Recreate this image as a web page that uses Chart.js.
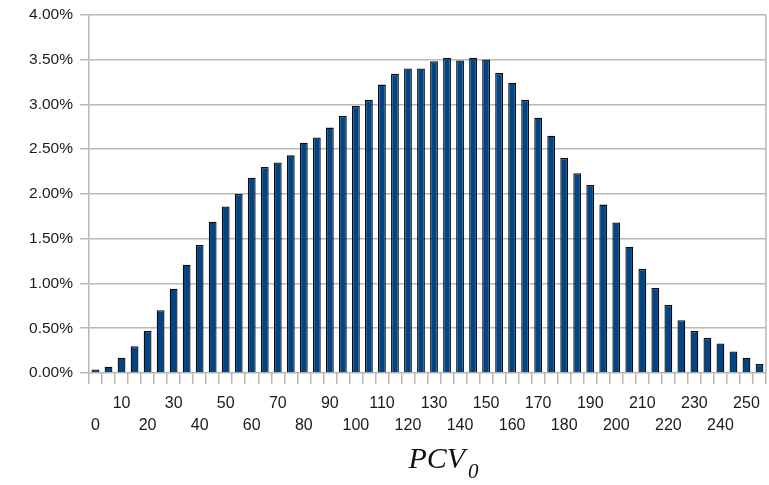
<!DOCTYPE html>
<html>
<head>
<meta charset="utf-8">
<script src="https://cdn.jsdelivr.net/npm/chart.js@4/dist/chart.umd.min.js"></script>
<style>
  html, body { margin: 0; padding: 0; background: #fff; }
  .wrap { position: relative; width: 769px; height: 485px; }
  .eixo-titulo {
    position: absolute; left: 0; width: 769px; top: 441px;
    text-align: center; padding-left: 118px; box-sizing: border-box;
    font-family: "Liberation Serif", "DejaVu Serif", serif;
    font-style: italic; font-size: 30px; color: #111;
  }
  .eixo-titulo sub { font-size: 21px; vertical-align: -10px; margin-left: 3px; }
</style>
</head>
<body>
<div class="wrap">
  <canvas class="Mychart" width="769" height="485"></canvas>
  <div class="eixo-titulo">PCV<sub>0</sub></div>
</div>
<script>
// categorias PCV0 (passo de 5)
const categorias = ["0","5","10","15","20","25","30","35","40","45","50","55","60","65","70","75","80","85","90","95",
  "100","105","110","115","120","125","130","135","140","145","150","155","160","165","170","175","180","185","190","195",
  "200","205","210","215","220","225","230","235","240","245","250","255"]

// frequencia em %
const frequencia = [0.04,0.07,0.17,0.30,0.47,0.70,0.94,1.21,1.43,1.69,1.86,2.00,2.18,2.30,2.35,2.43,2.57,2.63,2.74,2.87,
  2.98,3.05,3.22,3.34,3.40,3.40,3.48,3.52,3.49,3.52,3.50,3.35,3.24,3.05,2.85,2.65,2.40,2.23,2.10,1.88,
  1.68,1.41,1.16,0.95,0.76,0.59,0.47,0.39,0.33,0.24,0.17,0.10]

const yMax = 4
const yPasso = 0.5

/* borda direita da area do grafico */
const bordaDireita = {
    id: 'bordaDireita',
    afterDraw(chart) {
        const a = chart.chartArea
        const ctx = chart.ctx
        ctx.save()
        ctx.strokeStyle = '#b8b8b8'
        ctx.lineWidth = 1.5
        ctx.beginPath()
        ctx.moveTo(a.right, a.top)
        ctx.lineTo(a.right, a.bottom)
        ctx.stroke()
        ctx.restore()
    }
}

const data = {
    labels: categorias,
    datasets: [
        {
            label: 'PCV0',
            data: frequencia,
            backgroundColor: '#004586',
            borderColor: '#0a0a0a',
            borderWidth: 1.3,
            barPercentage: 0.6,
            categoryPercentage: 1.0,
        }
    ]
}

const config = {
    type: 'bar',
    data: data,
    options: {
        responsive: false,
        animation: false,
        layout: { padding: { top: 13, right: 3, left: 0, bottom: 0 } },
        plugins: {
            legend: { display: false },
            tooltip: { enabled: false }
        },
        scales: {
            x: {
                afterFit(scale) { scale.height = 112 },
                grid: {
                    offset: true,
                    drawOnChartArea: false,
                    drawTicks: true,
                    tickLength: 11,
                    color: '#b8b8b8',
                    lineWidth: 1.5
                },
                border: { display: false },
                ticks: {
                    autoSkip: false,
                    maxRotation: 0,
                    padding: 9,
                    color: '#1a1a1a',
                    font: { family: 'Liberation Sans, Arial, sans-serif', size: 16, lineHeight: 1.375 },
                    callback: function(val, i) {
                        const lab = categorias[i]
                        if (i % 4 === 0) return ['', lab]
                        if (i % 4 === 2) return [lab, '']
                        return ''
                    }
                }
            },
            y: {
                min: 0,
                max: yMax,
                afterFit(scale) { scale.width = 89 },
                ticks: {
                    stepSize: yPasso,
                    padding: 7,
                    color: '#1a1a1a',
                    font: { family: 'Liberation Sans, Arial, sans-serif', size: 15.5, lineHeight: 1 },
                    callback: v => v.toFixed(2) + '%'
                },
                grid: {
                    color: '#b8b8b8',
                    lineWidth: 1.5,
                    tickLength: 9
                },
                border: { color: '#b8b8b8', width: 1.5 }
            }
        }
    },
    plugins: [bordaDireita]
}

let graf = document.querySelector(".Mychart").getContext("2d")
let myChart = new Chart(graf, config)
</script>
</body>
</html>
